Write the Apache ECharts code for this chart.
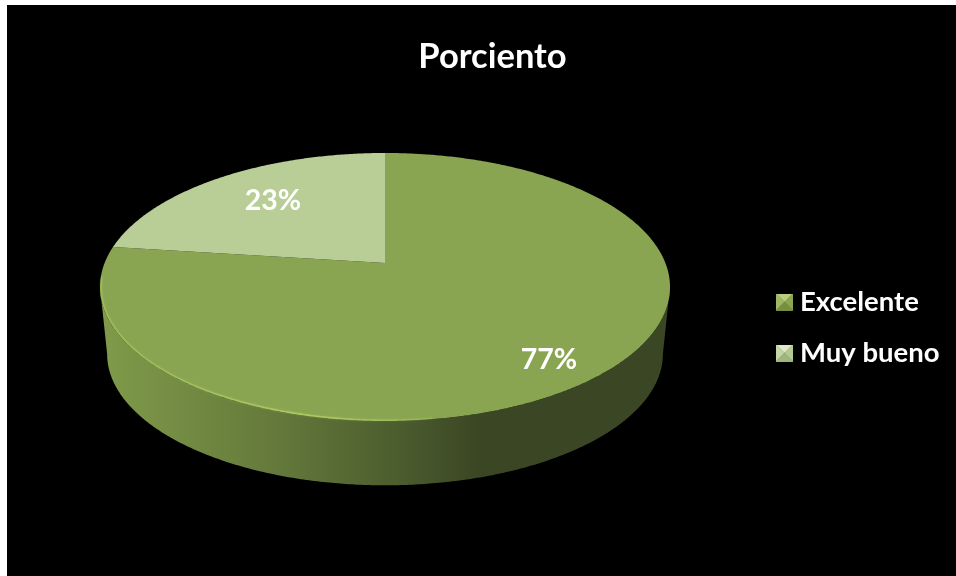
<!DOCTYPE html>
<html>
<head>
<meta charset="utf-8">
<title>Porciento</title>
<style>
  html, body { margin: 0; padding: 0; background: #fff; width: 956px; height: 576px; overflow: hidden; }
  #panel { position: absolute; left: 7px; top: 5px; width: 949px; height: 571px; background: #000; }
  #chart { position: absolute; left: 0; top: 0; width: 956px; height: 576px; }
</style>
<script src="https://cdn.jsdelivr.net/npm/echarts@6/dist/echarts.min.js"></script>
</head>
<body>
<div id="panel"></div>
<div id="chart"></div>
<script>
// Survey result shares
const categories = ['Excelente', 'Muy bueno'];
const values = [77, 23];
const chartTitle = 'Porciento';
const sliceColors = ['#8aa552', '#b9cd96'];
// Legend swatch facets: top, left, bottom, right
const bevelColors = [
  ['#b9cf7e', '#9fb662', '#76903f', '#8ca54f'],
  ['#e0e9c9', '#c5d5a6', '#a0b67c', '#b5c993']
];

// Disc projection: a unit circle seen in perspective, with its hub off the ellipse centre
const FONT = 'Lato, "Open Sans", sans-serif';
const HUB = { x: 385, y: 263 };
const SCALE_X = 280.4, SCALE_Y = 129.7, TILT = 0.179;
const ELLIPSE_CY = 287;
const WALL = { rx: 0.975, ry: 0.98, cy: 354 };
const FRONT = [100.3, 259.7];
const labelAnchors = [[549, 360], [273, 201]];
const total = values.reduce((a, b) => a + b, 0);

function topPoint(deg, r) {
  const t = deg * Math.PI / 180;
  const u = r * Math.sin(t), v = -r * Math.cos(t);
  const w = 1 - TILT * v;
  return [HUB.x + SCALE_X * u / w, HUB.y + SCALE_Y * v / w];
}
function wallPoint(deg) {
  const p = topPoint(deg, 1);
  return [HUB.x + (p[0] - HUB.x) * WALL.rx, WALL.cy + (p[1] - ELLIPSE_CY) * WALL.ry];
}
function arc(fn, from, to) {
  const pts = [];
  const n = Math.max(2, Math.ceil(Math.abs(to - from) * 2));
  for (let i = 0; i <= n; i++) pts.push(fn(from + (to - from) * i / n));
  return pts;
}

const wallGradient = new echarts.graphic.LinearGradient(100, 0, 670, 0, [
  { offset: 0, color: '#809b4a' },
  { offset: 0.31, color: '#64793b' },
  { offset: 0.52, color: '#4c5d2e' },
  { offset: 0.66, color: '#3b4724' },
  { offset: 1, color: '#3b4724' }
], true);
const rimGradient = new echarts.graphic.LinearGradient(100, 0, 480, 0, [
  { offset: 0, color: 'rgba(168,197,97,0.5)' },
  { offset: 0.55, color: 'rgba(176,208,100,0.85)' },
  { offset: 0.85, color: 'rgba(176,208,100,0.3)' },
  { offset: 1, color: 'rgba(176,208,100,0)' }
], true);

function sliceRenderer(index) {
  return function (params, api) {
    const before = values.slice(0, index).reduce((a, b) => a + b, 0);
    const start = before / total * 360;
    const end = start + api.value(0) / total * 360;
    const children = [];
    // Outer wall, only where the slice faces the viewer
    const a = Math.max(start, FRONT[0]), b = Math.min(end, FRONT[1]);
    if (b > a) {
      const lower = arc(wallPoint, a, b);
      const upper = arc(d => topPoint(d, 1), b, a);
      children.push({ type: 'polygon', shape: { points: lower.concat(upper) }, style: { fill: wallGradient } });
    }
    // Top face
    const rim = arc(d => topPoint(d, 1), start, end);
    children.push({
      type: 'polygon',
      shape: { points: [[HUB.x, HUB.y]].concat(rim) },
      style: { fill: sliceColors[index] }
    });
    // Highlight along the near-left edge of the top face
    const hiA = Math.max(start, 172), hiB = Math.min(end, 264);
    if (hiB > hiA) {
      children.push({
        type: 'polyline',
        shape: { points: arc(d => topPoint(d, 0.996), hiA, hiB) },
        style: { stroke: rimGradient, lineWidth: 1.6, fill: null, shadowBlur: 2, shadowColor: 'rgba(176,208,100,0.5)' }
      });
    }
    children.push({
      type: 'text',
      style: {
        text: Math.round(api.value(0) / total * 100) + '%',
        x: labelAnchors[index][0], y: labelAnchors[index][1],
        align: 'center', verticalAlign: 'middle',
        fill: '#fff', font: 'bold 28.5px ' + FONT
      }
    });
    return { type: 'group', children };
  };
}

// Small pyramid swatch for the legend
function bevelIcon(colors) {
  const s = 34, c = document.createElement('canvas');
  c.width = c.height = s;
  const g = c.getContext('2d');
  const edges = [[0, 0, s, 0], [0, s, 0, 0], [s, s, 0, s], [s, 0, s, s]];
  edges.forEach((e, i) => {
    g.fillStyle = colors[i];
    g.beginPath();
    g.moveTo(e[0], e[1]);
    g.lineTo(e[2], e[3]);
    g.lineTo(s / 2, s / 2);
    g.closePath();
    g.fill();
  });
  return 'image://' + c.toDataURL();
}

const chart = echarts.init(document.getElementById('chart'), null, { renderer: 'canvas' });
chart.setOption({
  backgroundColor: 'transparent',
  animation: false,
  title: {
    text: chartTitle,
    left: 487.5, top: 34, textAlign: 'center',
    textStyle: { color: '#fff', fontFamily: FONT, fontWeight: 'bold', fontSize: 34.5 }
  },
  legend: {
    orient: 'vertical',
    left: 771, top: 283,
    itemWidth: 17, itemHeight: 17, itemGap: 23,
    textStyle: { color: '#fff', fontFamily: FONT, fontWeight: 'bold', fontSize: 27.5, padding: [0, 0, 0, 2] },
    data: categories.map((name, i) => ({ name, icon: bevelIcon(bevelColors[i]) }))
  },
  series: categories.map((name, i) => ({
    type: 'custom',
    name,
    coordinateSystem: 'none',
    itemStyle: { color: sliceColors[i] },
    renderItem: sliceRenderer(i),
    data: [[values[i]]],
    silent: true
  }))
});
</script>
</body>
</html>
